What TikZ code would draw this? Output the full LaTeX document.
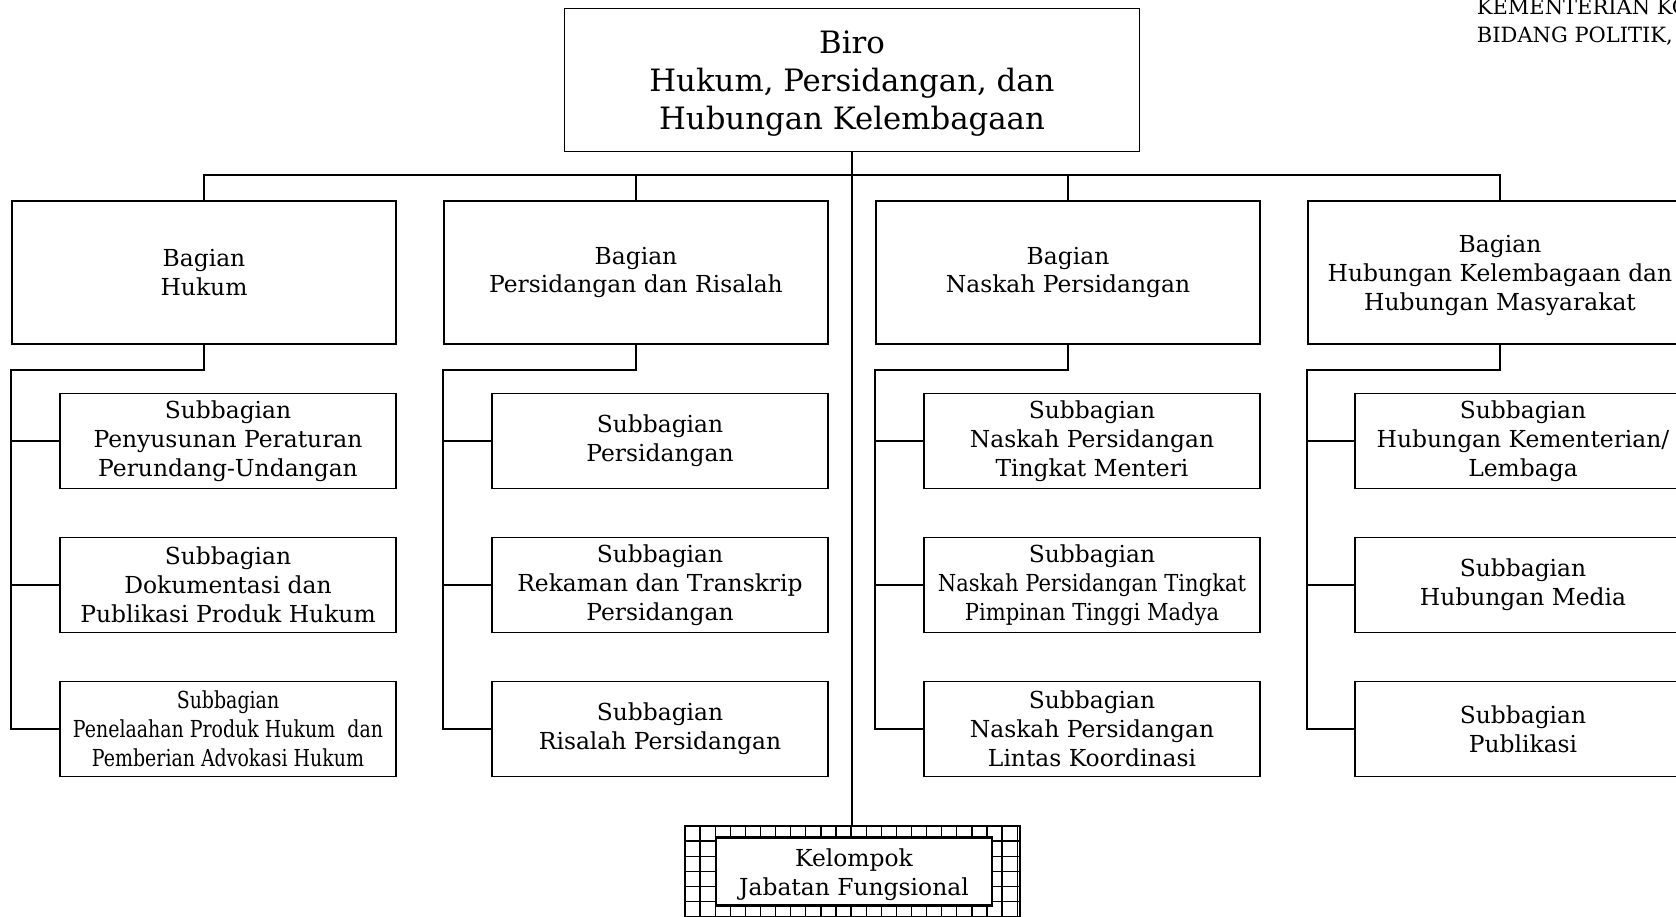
\documentclass[tikz,border=0pt]{standalone}
\usepackage{fontspec}
\setmainfont{DejaVu Serif}
\usepackage{graphicx}
\newcommand{\cnd}[2][0.86]{\scalebox{#1}[1]{#2}}
\begin{document}
\begin{tikzpicture}[x=1pt,y=-1pt,line width=1.9pt,
  boxbase/.style={draw,line width=1.9pt,align=center,inner sep=0pt,fill=white},
  birobox/.style={boxbase,minimum width=575pt,minimum height=143pt},
  birotext/.style={align=center,inner sep=0pt,font=\fontsize{30.8}{38}\selectfont},
  bagbox/.style={boxbase,minimum width=384pt,minimum height=143pt,font=\fontsize{23.4}{28.8}\selectfont},
  plaintext/.style={align=center,inner sep=0pt,font=\fontsize{23.4}{28.8}\selectfont},
  subbox/.style={boxbase,minimum width=336pt,minimum height=95pt,font=\fontsize{23.4}{28.8}\selectfont},
  kelbox/.style={boxbase,line width=2.3pt,minimum width=276pt,minimum height=68pt},
  toptext/.style={inner sep=0pt,anchor=base west,font=\fontsize{21}{28}\selectfont},
  conn/.style={line width=1.9pt}]
\useasboundingbox (0,0) rectangle (1676,917);
\clip (0,0) rectangle (1676,917);

% header text
\node[toptext] (tr1) at (1476,15) {KEMENTERIAN KOORDINATOR};
\node[toptext] (tr2) at (1476,43) {BIDANG POLITIK, HUKUM, DAN KEAMANAN};

% top
\node[birobox] (biro) at (852,80) {};
\node[birotext] (birot) at ([yshift=-4pt]biro.center) {Biro\\Hukum, Persidangan, dan\\Hubungan Kelembagaan};

% bagian
\node[bagbox] (b1) at (204,272.5) {Bagian\\Hukum};
\node[bagbox] (b2) at (636,272.5) {Bagian\\Persidangan dan Risalah};
\node[bagbox] (b3) at (1068,272.5) {Bagian\\Naskah Persidangan};
\node[bagbox] (b4) at (1500,272.5) {};
\node[plaintext] (b4t) at ([yshift=-3pt]b4.center) {Bagian\\Hubungan Kelembagaan dan\\Hubungan Masyarakat};

% subbagian
\node[subbox] (s11) at (228,441) {Subbagian\\Penyusunan Peraturan\\Perundang-Undangan};
\node[subbox] (s12) at (228,585) {Subbagian\\Dokumentasi dan\\Publikasi Produk Hukum};
\node[subbox] (s13) at (228,729) {\cnd[0.81]{Subbagian}\\\cnd[0.81]{Penelaahan Produk Hukum\ \ dan}\\\cnd[0.81]{Pemberian Advokasi Hukum}};

\node[subbox] (s21) at (660,441) {Subbagian\\Persidangan};
\node[subbox] (s22) at (660,585) {Subbagian\\Rekaman dan Transkrip\\Persidangan};
\node[subbox] (s23) at (660,729) {Subbagian\\Risalah Persidangan};

\node[subbox] (s31) at (1092,441) {Subbagian\\Naskah Persidangan\\Tingkat Menteri};
\node[subbox] (s32) at (1092,585) {Subbagian\\\cnd[0.9]{Naskah Persidangan Tingkat}\\\cnd[0.9]{Pimpinan Tinggi Madya}};
\node[subbox] (s33) at (1092,729) {Subbagian\\Naskah Persidangan\\Lintas Koordinasi};

\node[subbox] (s41) at (1523,441) {Subbagian\\Hubungan Kementerian/\\Lembaga};
\node[subbox] (s42) at (1523,585) {Subbagian\\Hubungan Media};
\node[subbox] (s43) at (1523,729) {Subbagian\\Publikasi};

% kelompok jabatan fungsional (grid frame)
\coordinate (gtl) at (685,826);
\coordinate (gbr) at (1020,940);
\begin{scope}
  \clip (gtl) rectangle (gbr);
  \foreach \i in {0,...,23} \draw[line width=1.3pt] (685+\i*15.1,826) -- (685+\i*15.1,940);
  \foreach \j in {0,...,8} \draw[line width=1.3pt] (685,826+\j*15.1) -- (1020,826+\j*15.1);
\end{scope}
\draw[line width=1.9pt] (gtl) rectangle (gbr);
\node[kelbox] (kel) at (854,871.5) {};
\node[plaintext] (kelt) at ([yshift=-3pt]kel.center) {Kelompok\\Jabatan Fungsional};

% connectors
\draw[conn] (biro.south) -- (gtl -| biro.south);
\draw[conn] (b1.north) -- ++(0,-25) -| (b4.north);
\draw[conn] (b2.north) -- ++(0,-25);
\draw[conn] (b3.north) -- ++(0,-25);

\foreach \c in {1,2,3,4}{
  \draw[conn] (b\c.south) -- ++(0,25) -| (b\c.west |- s\c3.west) -- (s\c3.west);
  \draw[conn] (b\c.west |- s\c1.west) -- (s\c1.west);
  \draw[conn] (b\c.west |- s\c2.west) -- (s\c2.west);
}
\end{tikzpicture}
\end{document}
